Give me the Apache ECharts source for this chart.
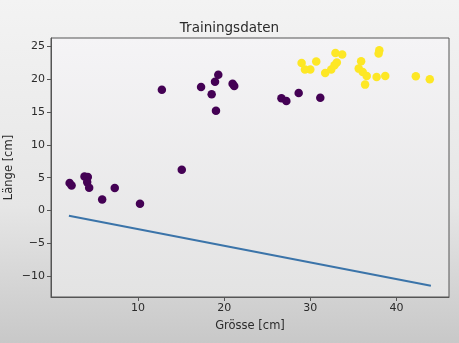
<!DOCTYPE html>
<html>
<head>
<meta charset="utf-8">
<script src="https://cdn.jsdelivr.net/npm/echarts@6/dist/echarts.min.js"></script>
<style>
html,body{margin:0;padding:0;}
body{width:459px;height:343px;background:linear-gradient(to bottom,#f3f3f3 0%,#e6e6e6 60%,#c8c8c8 100%);}
#c{width:459px;height:343px;}
</style>
</head>
<body>
<div id="c"></div>
<script>
const title = 'Trainingsdaten';
const xName = 'Grösse [cm]';
const yName = 'Länge [cm]';
const xTicks = [10, 20, 30, 40];
const yTicks = [-10, -5, 0, 5, 10, 15, 20, 25];

const class0 = [
  [2.06, 4.17], [2.29, 3.82], [3.79, 5.19], [4.17, 5.09], [4.10, 4.32], [4.33, 3.46],
  [5.84, 1.68], [7.30, 3.41], [10.23, 1.02], [15.08, 6.21],
  [12.77, 18.42], [17.32, 18.83], [18.55, 17.71], [18.94, 19.64], [19.32, 20.71],
  [19.05, 15.22], [20.98, 19.34], [21.17, 18.98], [26.65, 17.10], [27.22, 16.69],
  [28.65, 17.91], [31.16, 17.20]
];
const class1 = [
  [28.99, 22.49], [29.38, 21.48], [30.00, 21.48], [30.69, 22.70], [31.73, 20.97],
  [32.43, 21.48], [32.81, 22.14], [33.08, 22.55], [32.92, 24.02], [33.70, 23.77],
  [35.90, 22.75], [35.62, 21.63], [36.08, 21.11], [36.55, 20.50], [36.36, 19.19],
  [37.70, 20.35], [38.70, 20.50], [38.01, 24.43], [37.93, 23.92], [42.25, 20.46],
  [43.87, 20.00]
];
const boundary = [[1.98, -0.81], [44.0, -11.5]];

const txt = '#2b2b2b';
const font = 'DejaVu Sans';
const chart = echarts.init(document.getElementById('c'), null, {renderer: 'canvas'});
chart.setOption({
  backgroundColor: 'transparent',
  animation: false,
  title: {
    text: title, left: 'center', top: 16,
    textStyle: {fontFamily: font, fontSize: 13.5, fontWeight: 'normal', color: txt}
  },
  grid: {
    left: 51, right: 10, top: 38, bottom: 46,
    outerBoundsMode: 'none', containLabel: false,
    show: true, borderColor: '#555', borderWidth: 1,
    backgroundColor: new echarts.graphic.LinearGradient(0, 0, 0, 1, [
      {offset: 0, color: '#f5f4f6'}, {offset: 1, color: '#e3e3e3'}
    ])
  },
  xAxis: {
    type: 'value', min: -0.1, max: 46.1,
    name: xName, nameLocation: 'middle', nameGap: 23, nameMoveOverlap: false,
    nameTextStyle: {fontFamily: font, fontSize: 11.5, color: txt},
    axisLine: {show: true, onZero: false, lineStyle: {color: '#555', width: 1}},
    axisTick: {show: true, length: 4, customValues: xTicks, lineStyle: {color: '#555'}},
    axisLabel: {customValues: xTicks, fontFamily: font, fontSize: 11, color: txt, margin: 6},
    splitLine: {show: false}
  },
  yAxis: {
    type: 'value', min: -13.2, max: 26.3,
    name: yName, nameLocation: 'middle', nameGap: 36, nameMoveOverlap: false,
    nameTextStyle: {fontFamily: font, fontSize: 11.5, color: txt},
    axisLine: {show: true, onZero: false, lineStyle: {color: '#555', width: 1}},
    axisTick: {show: true, length: 4, customValues: yTicks, lineStyle: {color: '#555'}},
    axisLabel: {customValues: yTicks, fontFamily: font, fontSize: 11, color: txt, margin: 6,
      formatter: v => String(v).replace('-', '\u2212')},
    splitLine: {show: false}
  },
  series: [
    {type: 'line', data: boundary, symbol: 'none', lineStyle: {color: '#3b74a9', width: 2}, z: 1},
    {type: 'scatter', data: class0, symbolSize: 8.5, itemStyle: {color: '#440154', opacity: 1}, z: 2},
    {type: 'scatter', data: class1, symbolSize: 8.5, itemStyle: {color: '#fde725', opacity: 1}, z: 2}
  ]
});
</script>
</body>
</html>
